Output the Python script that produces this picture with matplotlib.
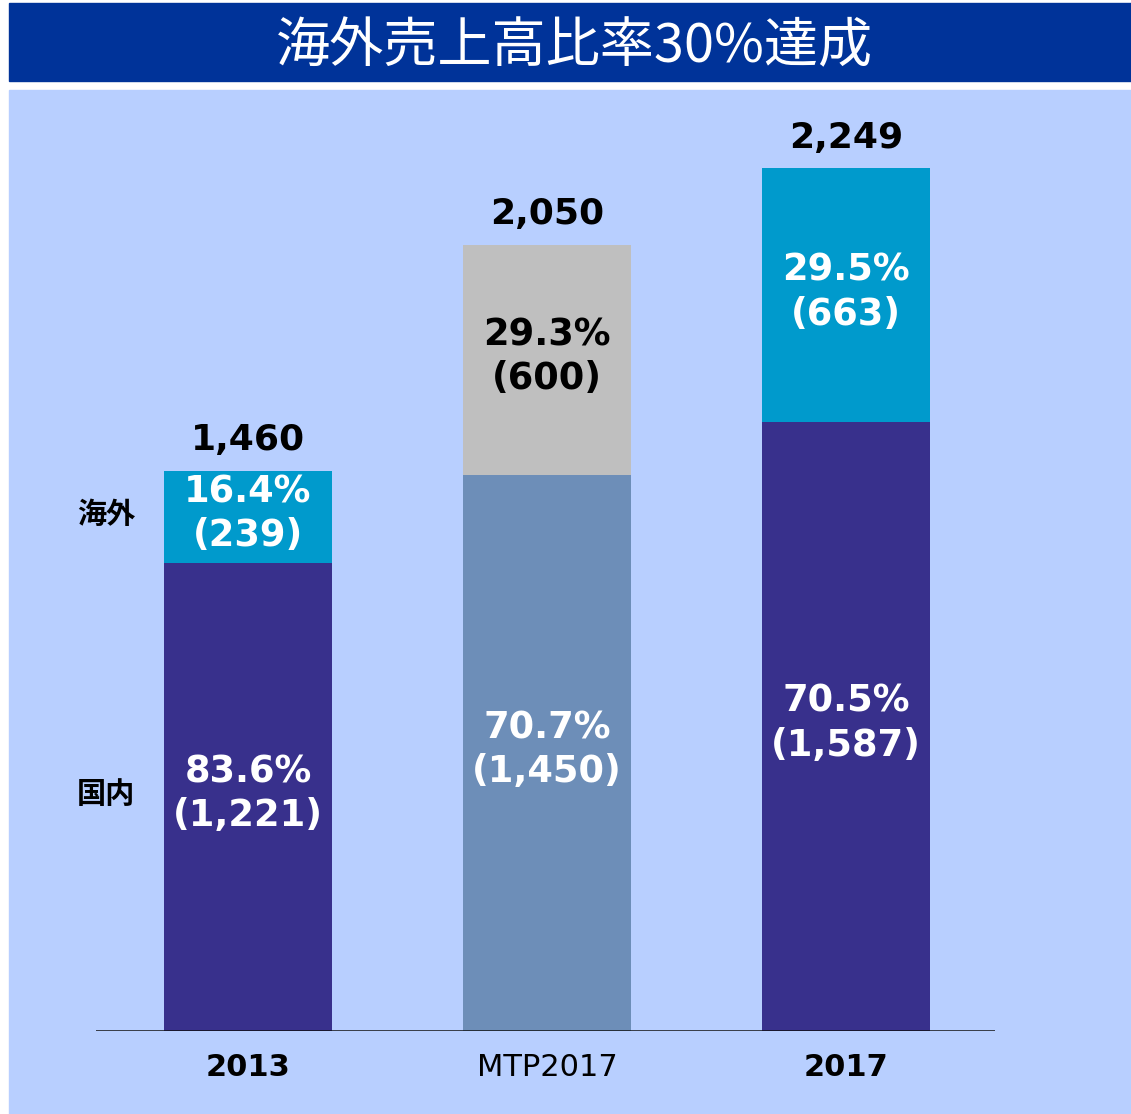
import matplotlib

matplotlib.use("Agg")
import matplotlib.pyplot as plt
from matplotlib.patches import Rectangle

# data (units as shown on the chart)
categories = ["2013", "MTP2017", "2017"]
domestic = [1221, 1450, 1587]
overseas = [239, 600, 663]
totals = [1460, 2050, 2249]
domestic_pct = ["83.6%", "70.7%", "70.5%"]
overseas_pct = ["16.4%", "29.3%", "29.5%"]
title = "海外売上高比率30%達成"
segment_names = ["海外", "国内"]

W, H = 1131, 1114
CJK = ["Noto Sans CJK JP", "DejaVu Sans"]

dom_colors = ["#38308c", "#6d8eb8", "#38308c"]
ovs_colors = ["#009acc", "#bfbfbf", "#009acc"]
ovs_text = ["white", "black", "white"]
cat_weight = ["bold", "normal", "bold"]

fig = plt.figure(figsize=(W / 100, H / 100), dpi=100)
fig.patch.set_facecolor("white")


def fx(px):
    return px / W


def fy(py):
    return 1 - py / H


# title bar and background panel (drawn below the chart axes)
fig.patches.append(Rectangle((fx(9), fy(81)), fx(W - 9), (81 - 3) / H,
                             transform=fig.transFigure, color="#003399", zorder=-10))
fig.patches.append(Rectangle((fx(9), 0), fx(W - 9), (H - 90) / H,
                             transform=fig.transFigure, color="#b8cfff", zorder=-10))
fig.text(fx(574), fy(47), title, color="white", fontsize=39, family=CJK,
         ha="center", va="center")

# chart axes: baseline at y=1031px, x from 96 to 995px
left, right, base, top = 96, 995, 1031, 90
ax = fig.add_axes([fx(left), fy(base), fx(right - left), (base - top) / H])
ax.set_facecolor("none")
px_per_unit = 0.3836
ax.set_ylim(0, (base - top) / px_per_unit)
spacing = 299
ax.set_xlim(-(248 - left) / spacing, (right - 248) / spacing)

x = list(range(len(categories)))
width = 168 / spacing
ax.bar(x, domestic, width, color=dom_colors, zorder=2)
ax.bar(x, overseas, width, bottom=domestic, color=ovs_colors, zorder=2)

label_kw = dict(ha="center", va="center", fontsize=26.5, fontweight="bold",
                linespacing=1.25, family="DejaVu Sans")
for i in x:
    ax.text(i, domestic[i] / 2 + 8, f"{domestic_pct[i]}\n({domestic[i]:,})",
            color="white", **label_kw)
    ax.text(i, domestic[i] + overseas[i] / 2 + 8, f"{overseas_pct[i]}\n({overseas[i]:,})",
            color=ovs_text[i], **label_kw)
    ax.text(i, totals[i] + 80, f"{totals[i]:,}", ha="center", va="center",
            fontsize=26, fontweight="bold", color="black")
    ax.text(i, -94, categories[i], ha="center", va="center", fontsize=22,
            fontweight=cat_weight[i], color="black")

# segment names on the left, aligned with the first bar
side_x = -(248 - 106) / spacing
ax.text(side_x, domestic[0] + overseas[0] / 2 + 8, segment_names[0],
        ha="center", va="center", fontsize=21, fontweight="bold", family=CJK)
ax.text(side_x, domestic[0] / 2 + 8, segment_names[1],
        ha="center", va="center", fontsize=21, fontweight="bold", family=CJK)

ax.axhline(0, color="#111111", linewidth=1.8, zorder=3)
for side in ["top", "right", "left", "bottom"]:
    ax.spines[side].set_visible(False)
ax.set_xticks([])
ax.set_yticks([])

fig.savefig("out.png", dpi=100)
